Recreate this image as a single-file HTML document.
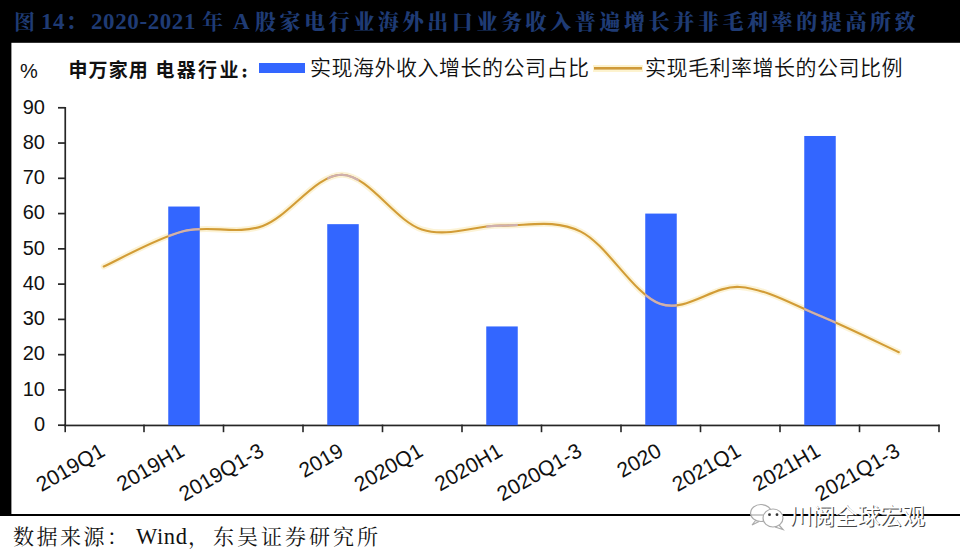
<!DOCTYPE html>
<html><head><meta charset="utf-8"><style>
html,body{margin:0;padding:0;background:#fff;}
body{width:960px;height:557px;overflow:hidden;}
svg{display:block;}
.title text{font-family:"Liberation Serif","Noto Serif CJK SC",serif;font-weight:700;font-size:21px;}
.title .tc{letter-spacing:3.6px;font-weight:900;}
.title .tl{letter-spacing:0.6px;font-size:23px;}
.ax{font-family:"Liberation Sans",sans-serif;font-size:20px;fill:#111;}
.xl{font-size:21px;}
.lgb{font-family:"Liberation Sans","Noto Sans CJK SC",sans-serif;font-size:19px;font-weight:700;fill:#111;}
.lg{font-family:"Liberation Sans","Noto Sans CJK SC",sans-serif;font-size:21px;fill:#111;letter-spacing:0.5px;font-weight:350;}
.ft{font-family:"Liberation Serif","Noto Serif CJK SC",serif;font-size:21px;fill:#111;letter-spacing:2.5px;}
.ft2{letter-spacing:3px;}
.wm{font-family:"Liberation Sans","Noto Sans CJK SC",sans-serif;font-size:22.5px;}
</style></head><body>
<svg width="960" height="557" viewBox="0 0 960 557">
<rect x="0" y="0" width="960" height="42.8" fill="#000"/>
<rect x="0" y="0" width="11.4" height="516" fill="#000"/>
<rect x="0" y="514" width="960" height="2" fill="#000"/>
<g class="title" fill="#1f3b74">
<text x="14" y="28.8">图</text>
<text x="41" y="29.3" class="tl">14：</text>
<text x="91" y="29.3" class="tl">2020-2021</text>
<text x="202" y="28.8">年</text>
<text x="233" y="29.3" class="tl">A</text>
<text x="255" y="28.8" class="tc">股家电行业海外出口业务收入普遍增长并非毛利率的提高所致</text>
</g>
<text x="20" y="78" class="ax">%</text>
<text x="68.5" y="76.5" class="lgb" style="letter-spacing:1.1px">申万家用</text>
<text x="155.5" y="76.5" class="lgb" style="letter-spacing:2.3px">电器行业<tspan x="241.8" y="77.4" style="font-size:11px;font-weight:900;stroke:#111;stroke-width:1.1px">：</tspan></text>
<rect x="259" y="63" width="46" height="10" fill="#3366ff"/>
<text x="310" y="75" class="lg">实现海外收入增长的公司占比</text>
<rect x="593" y="65" width="50" height="7" fill="#fdf3cf"/>
<rect x="594" y="67" width="48" height="2.6" fill="#cf9a3a"/>
<text x="645" y="75" class="lg">实现毛利率增长的公司比例</text>
<g fill="#262626">
<rect x="64.4" y="107" width="1.7" height="319"/>
<rect x="58" y="424.35" width="7" height="1.7"/>
<rect x="58" y="389.08" width="7" height="1.7"/>
<rect x="58" y="353.81" width="7" height="1.7"/>
<rect x="58" y="318.54" width="7" height="1.7"/>
<rect x="58" y="283.27" width="7" height="1.7"/>
<rect x="58" y="248.00" width="7" height="1.7"/>
<rect x="58" y="212.73" width="7" height="1.7"/>
<rect x="58" y="177.46" width="7" height="1.7"/>
<rect x="58" y="142.19" width="7" height="1.7"/>
<rect x="58" y="106.92" width="7" height="1.7"/>
<rect x="64" y="424.6" width="875.5" height="1.7"/>
<rect x="64.40" y="424.6" width="1.6" height="7.6"/>
<rect x="143.20" y="424.6" width="1.6" height="7.6"/>
<rect x="222.70" y="424.6" width="1.6" height="7.6"/>
<rect x="302.20" y="424.6" width="1.6" height="7.6"/>
<rect x="381.70" y="424.6" width="1.6" height="7.6"/>
<rect x="461.20" y="424.6" width="1.6" height="7.6"/>
<rect x="540.70" y="424.6" width="1.6" height="7.6"/>
<rect x="620.20" y="424.6" width="1.6" height="7.6"/>
<rect x="699.70" y="424.6" width="1.6" height="7.6"/>
<rect x="779.20" y="424.6" width="1.6" height="7.6"/>
<rect x="858.70" y="424.6" width="1.6" height="7.6"/>
<rect x="938.20" y="424.6" width="1.6" height="7.6"/>
</g>
<text x="45" y="431.00" class="ax" text-anchor="end">0</text>
<text x="45" y="395.73" class="ax" text-anchor="end">10</text>
<text x="45" y="360.46" class="ax" text-anchor="end">20</text>
<text x="45" y="325.19" class="ax" text-anchor="end">30</text>
<text x="45" y="289.92" class="ax" text-anchor="end">40</text>
<text x="45" y="254.65" class="ax" text-anchor="end">50</text>
<text x="45" y="219.38" class="ax" text-anchor="end">60</text>
<text x="45" y="184.11" class="ax" text-anchor="end">70</text>
<text x="45" y="148.84" class="ax" text-anchor="end">80</text>
<text x="45" y="113.57" class="ax" text-anchor="end">90</text>
<path d="M103.75,266.49 C117.00,260.61 156.75,237.98 183.25,231.21 C209.75,224.45 236.25,235.33 262.75,225.92 C289.25,216.52 315.75,174.20 342.25,174.78 C368.75,175.37 395.25,220.99 421.75,229.45 C448.25,237.92 474.75,225.22 501.25,225.57 C527.75,225.92 554.25,218.52 580.75,231.57 C607.25,244.62 633.75,294.64 660.25,303.87 C686.75,313.10 713.25,285.00 739.75,286.94 C766.25,288.88 792.75,304.64 819.25,315.51 C845.75,326.39 885.50,346.08 898.75,352.19" fill="none" stroke="#fbeec4" stroke-width="6" stroke-linejoin="round" stroke-linecap="round" opacity="0.7"/>
<rect x="168.25" y="206.53" width="31.5" height="218.67" fill="#3366ff"/>
<rect x="327.25" y="224.16" width="31.5" height="201.04" fill="#3366ff"/>
<rect x="486.25" y="326.44" width="31.5" height="98.76" fill="#3366ff"/>
<rect x="645.25" y="213.58" width="31.5" height="211.62" fill="#3366ff"/>
<rect x="804.25" y="135.99" width="31.5" height="289.21" fill="#3366ff"/>
<path d="M103.75,266.49 C117.00,260.61 156.75,237.98 183.25,231.21 C209.75,224.45 236.25,235.33 262.75,225.92 C289.25,216.52 315.75,174.20 342.25,174.78 C368.75,175.37 395.25,220.99 421.75,229.45 C448.25,237.92 474.75,225.22 501.25,225.57 C527.75,225.92 554.25,218.52 580.75,231.57 C607.25,244.62 633.75,294.64 660.25,303.87 C686.75,313.10 713.25,285.00 739.75,286.94 C766.25,288.88 792.75,304.64 819.25,315.51 C845.75,326.39 885.50,346.08 898.75,352.19" fill="none" stroke="#d29c36" stroke-width="2.1" stroke-linejoin="round" stroke-linecap="round"/>
<defs><clipPath id="bc"><rect x="168.25" y="0" width="31.5" height="430"/><rect x="327.25" y="0" width="31.5" height="430"/><rect x="486.25" y="0" width="31.5" height="430"/><rect x="645.25" y="0" width="31.5" height="430"/><rect x="804.25" y="0" width="31.5" height="430"/></clipPath></defs>
<g clip-path="url(#bc)"><path d="M103.75,266.49 C117.00,260.61 156.75,237.98 183.25,231.21 C209.75,224.45 236.25,235.33 262.75,225.92 C289.25,216.52 315.75,174.20 342.25,174.78 C368.75,175.37 395.25,220.99 421.75,229.45 C448.25,237.92 474.75,225.22 501.25,225.57 C527.75,225.92 554.25,218.52 580.75,231.57 C607.25,244.62 633.75,294.64 660.25,303.87 C686.75,313.10 713.25,285.00 739.75,286.94 C766.25,288.88 792.75,304.64 819.25,315.51 C845.75,326.39 885.50,346.08 898.75,352.19" fill="none" stroke="#cfb0b0" stroke-width="2.2"/></g>
<text x="106.25" y="455.00" class="ax xl" text-anchor="end" transform="rotate(-30 106.25 455.00)">2019Q1</text>
<text x="185.75" y="455.00" class="ax xl" text-anchor="end" transform="rotate(-30 185.75 455.00)">2019H1</text>
<text x="265.25" y="455.00" class="ax xl" text-anchor="end" transform="rotate(-30 265.25 455.00)">2019Q1-3</text>
<text x="344.75" y="455.00" class="ax xl" text-anchor="end" transform="rotate(-30 344.75 455.00)">2019</text>
<text x="424.25" y="455.00" class="ax xl" text-anchor="end" transform="rotate(-30 424.25 455.00)">2020Q1</text>
<text x="503.75" y="455.00" class="ax xl" text-anchor="end" transform="rotate(-30 503.75 455.00)">2020H1</text>
<text x="583.25" y="455.00" class="ax xl" text-anchor="end" transform="rotate(-30 583.25 455.00)">2020Q1-3</text>
<text x="662.75" y="455.00" class="ax xl" text-anchor="end" transform="rotate(-30 662.75 455.00)">2020</text>
<text x="742.25" y="455.00" class="ax xl" text-anchor="end" transform="rotate(-30 742.25 455.00)">2021Q1</text>
<text x="821.75" y="455.00" class="ax xl" text-anchor="end" transform="rotate(-30 821.75 455.00)">2021H1</text>
<text x="901.25" y="455.00" class="ax xl" text-anchor="end" transform="rotate(-30 901.25 455.00)">2021Q1-3</text>
<text x="13" y="544" class="ft">数据来源：</text>
<text x="136" y="544" class="ft" style="letter-spacing:0.6px;font-size:22.5px">Wind</text>
<text x="188" y="544" class="ft">，</text>
<text x="213" y="544" class="ft ft2">东吴证券研究所</text>
<g stroke="#aaa" stroke-width="1.2">
<path d="M756,520 L752,525 L759,521.5" fill="#fff" fill-opacity="0.8"/>
<ellipse cx="761" cy="513" rx="10.5" ry="8.5" fill="#fff" fill-opacity="0.8"/>
<path d="M779,525 L783,529.5 L775,527" fill="#fff"/>
<ellipse cx="773" cy="518" rx="10" ry="9" fill="#fff"/>
</g>
<circle cx="769.5" cy="514.7" r="1.4" fill="#333"/><circle cx="777" cy="514.7" r="1.4" fill="#333"/>
<text x="791" y="525" class="wm" fill="#444">川阅全球宏观</text>
<text x="790" y="524" class="wm" fill="#fff">川阅全球宏观</text>
</svg>
</body></html>
